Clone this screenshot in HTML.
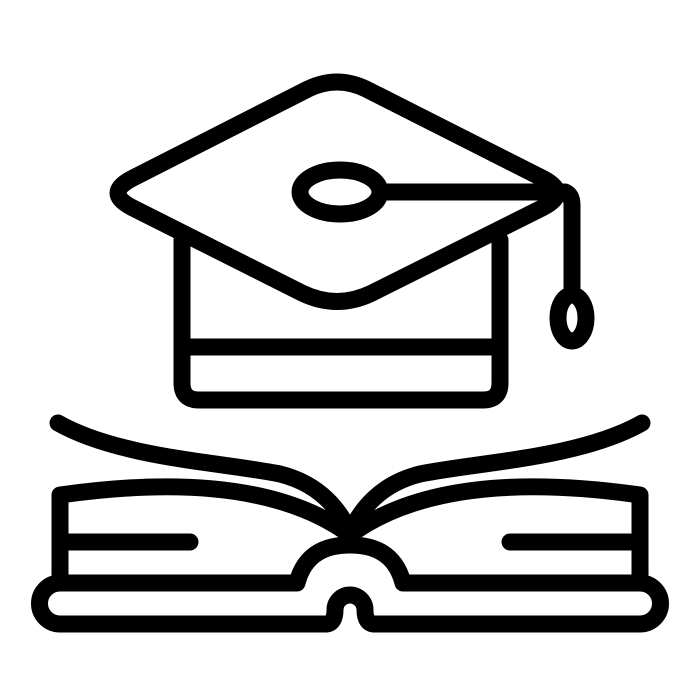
<!DOCTYPE html>
<html><head><style>html,body{margin:0;padding:0;background:#fff;}svg{display:block}</style></head>
<body>
<svg width="700" height="700" viewBox="0 0 700 700" xmlns="http://www.w3.org/2000/svg">
<g fill="none" stroke="#000" stroke-width="17" stroke-linecap="round" stroke-linejoin="round">
<!-- cap body -->
<path d="M182 240 V383 Q182 400 199 400 H483 Q500 400 500 383 V240"/>
<path d="M182 347 H500"/>
<!-- diamond -->
<path d="M308 89 Q337 75 366 89 L542 178 Q572 193 542 208 L372 293 Q337 310 302 293 L133 208 Q103 193 133 178 Z" fill="#fff"/>
<ellipse cx="340" cy="192" rx="40" ry="22"/>
<path d="M380 192 H565 Q572 195 572 205 V288"/>
<ellipse cx="572" cy="318" rx="14" ry="23"/>
<!-- book pages -->
<path d="M58 423 C120 458 220 462 280 474 C320 484 340 510 350 533"/>
<path d="M642 423 C580 458 480 462 420 474 C380 484 360 510 350 533"/>
<path d="M60 583 V495 Q250 468 343 530"/>
<path d="M640 583 V495 Q450 468 357 530"/>
<path d="M60 542 H190"/>
<path d="M640 542 H510"/>
<path d="M60 583 H297 C305 552 328 545 350 545 C372 545 395 552 403 583 H640"/>
<!-- base -->
<path d="M60 583 A20.5 20.5 0 0 0 60 624 H325 Q335 624 335 610 A15 15 0 0 1 365 610 Q365 624 375 624 H640 A20.5 20.5 0 0 0 640 583"/>
</g>
</svg>
</body></html>
